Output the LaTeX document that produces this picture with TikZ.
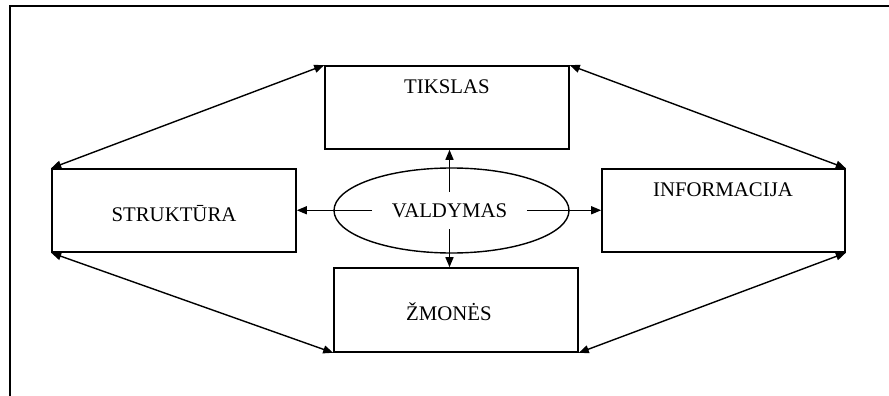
\documentclass[tikz,border=0pt]{standalone}
\usepackage{fontspec}
\setmainfont{Liberation Serif}
\usetikzlibrary{arrows.meta,shapes.geometric}
\begin{document}
\begin{tikzpicture}[x=1pt,y=-1pt,
  font=\fontsize{20.8}{25}\selectfont,
  box/.style={draw,line width=1.6pt,rectangle,minimum width=244pt,minimum height=83pt,inner sep=0pt},
  link/.style={line width=1.4pt,{Triangle[length=10pt,width=8pt]}-{Triangle[length=10pt,width=8pt]}},
  ray/.style={line width=1.4pt,-{Triangle[length=10pt,width=8pt]}},
  word/.style={anchor=base,inner sep=0pt}]
\useasboundingbox (0,0) rectangle (889,396);

% open frame: top and left edges
\draw[line width=2.6pt] (889,6) -- (10,6) -- (10,396);

% the four boxes
\node[box] (tik) at (447,107.5) {};
\node[box] (str) at (174,210.5) {};
\node[box,minimum width=243pt] (inf) at (723.5,210.5) {};
\node[box,minimum height=84pt] (zmo) at (456,310) {};

% box titles
\node[word] (tikt) at (447,93) {TIKSLAS};
\node[word] (strt) at (174,221) {STRUKTŪRA};
\node[word] (inft) at (723,196) {INFORMACIJA};
\node[word] (zmot) at (449,320) {ŽMONĖS};

% central ellipse
\node[ellipse,draw,line width=1.4pt,minimum width=235pt,minimum height=85pt,inner sep=0pt] (ell) at (451.5,210.5) {};
\node[anchor=base,inner xsep=19.5pt,inner ysep=11.5pt] (vt) at (449.5,217) {VALDYMAS};

% links from the centre outwards
\draw[ray] (vt.north) -- (vt.north |- tik.south);
\draw[ray] (vt.south) -- (vt.south |- zmo.north);
\draw[ray] (vt.west) -- (vt.west -| str.east);
\draw[ray] (vt.east) -- (vt.east -| inf.west);

% links between the outer boxes
\draw[link] (str.north west) -- (tik.north west);
\draw[link] (tik.north east) -- (inf.north east);
\draw[link] (str.south west) -- (zmo.south west);
\draw[link] (zmo.south east) -- (inf.south east);
\end{tikzpicture}
\end{document}
